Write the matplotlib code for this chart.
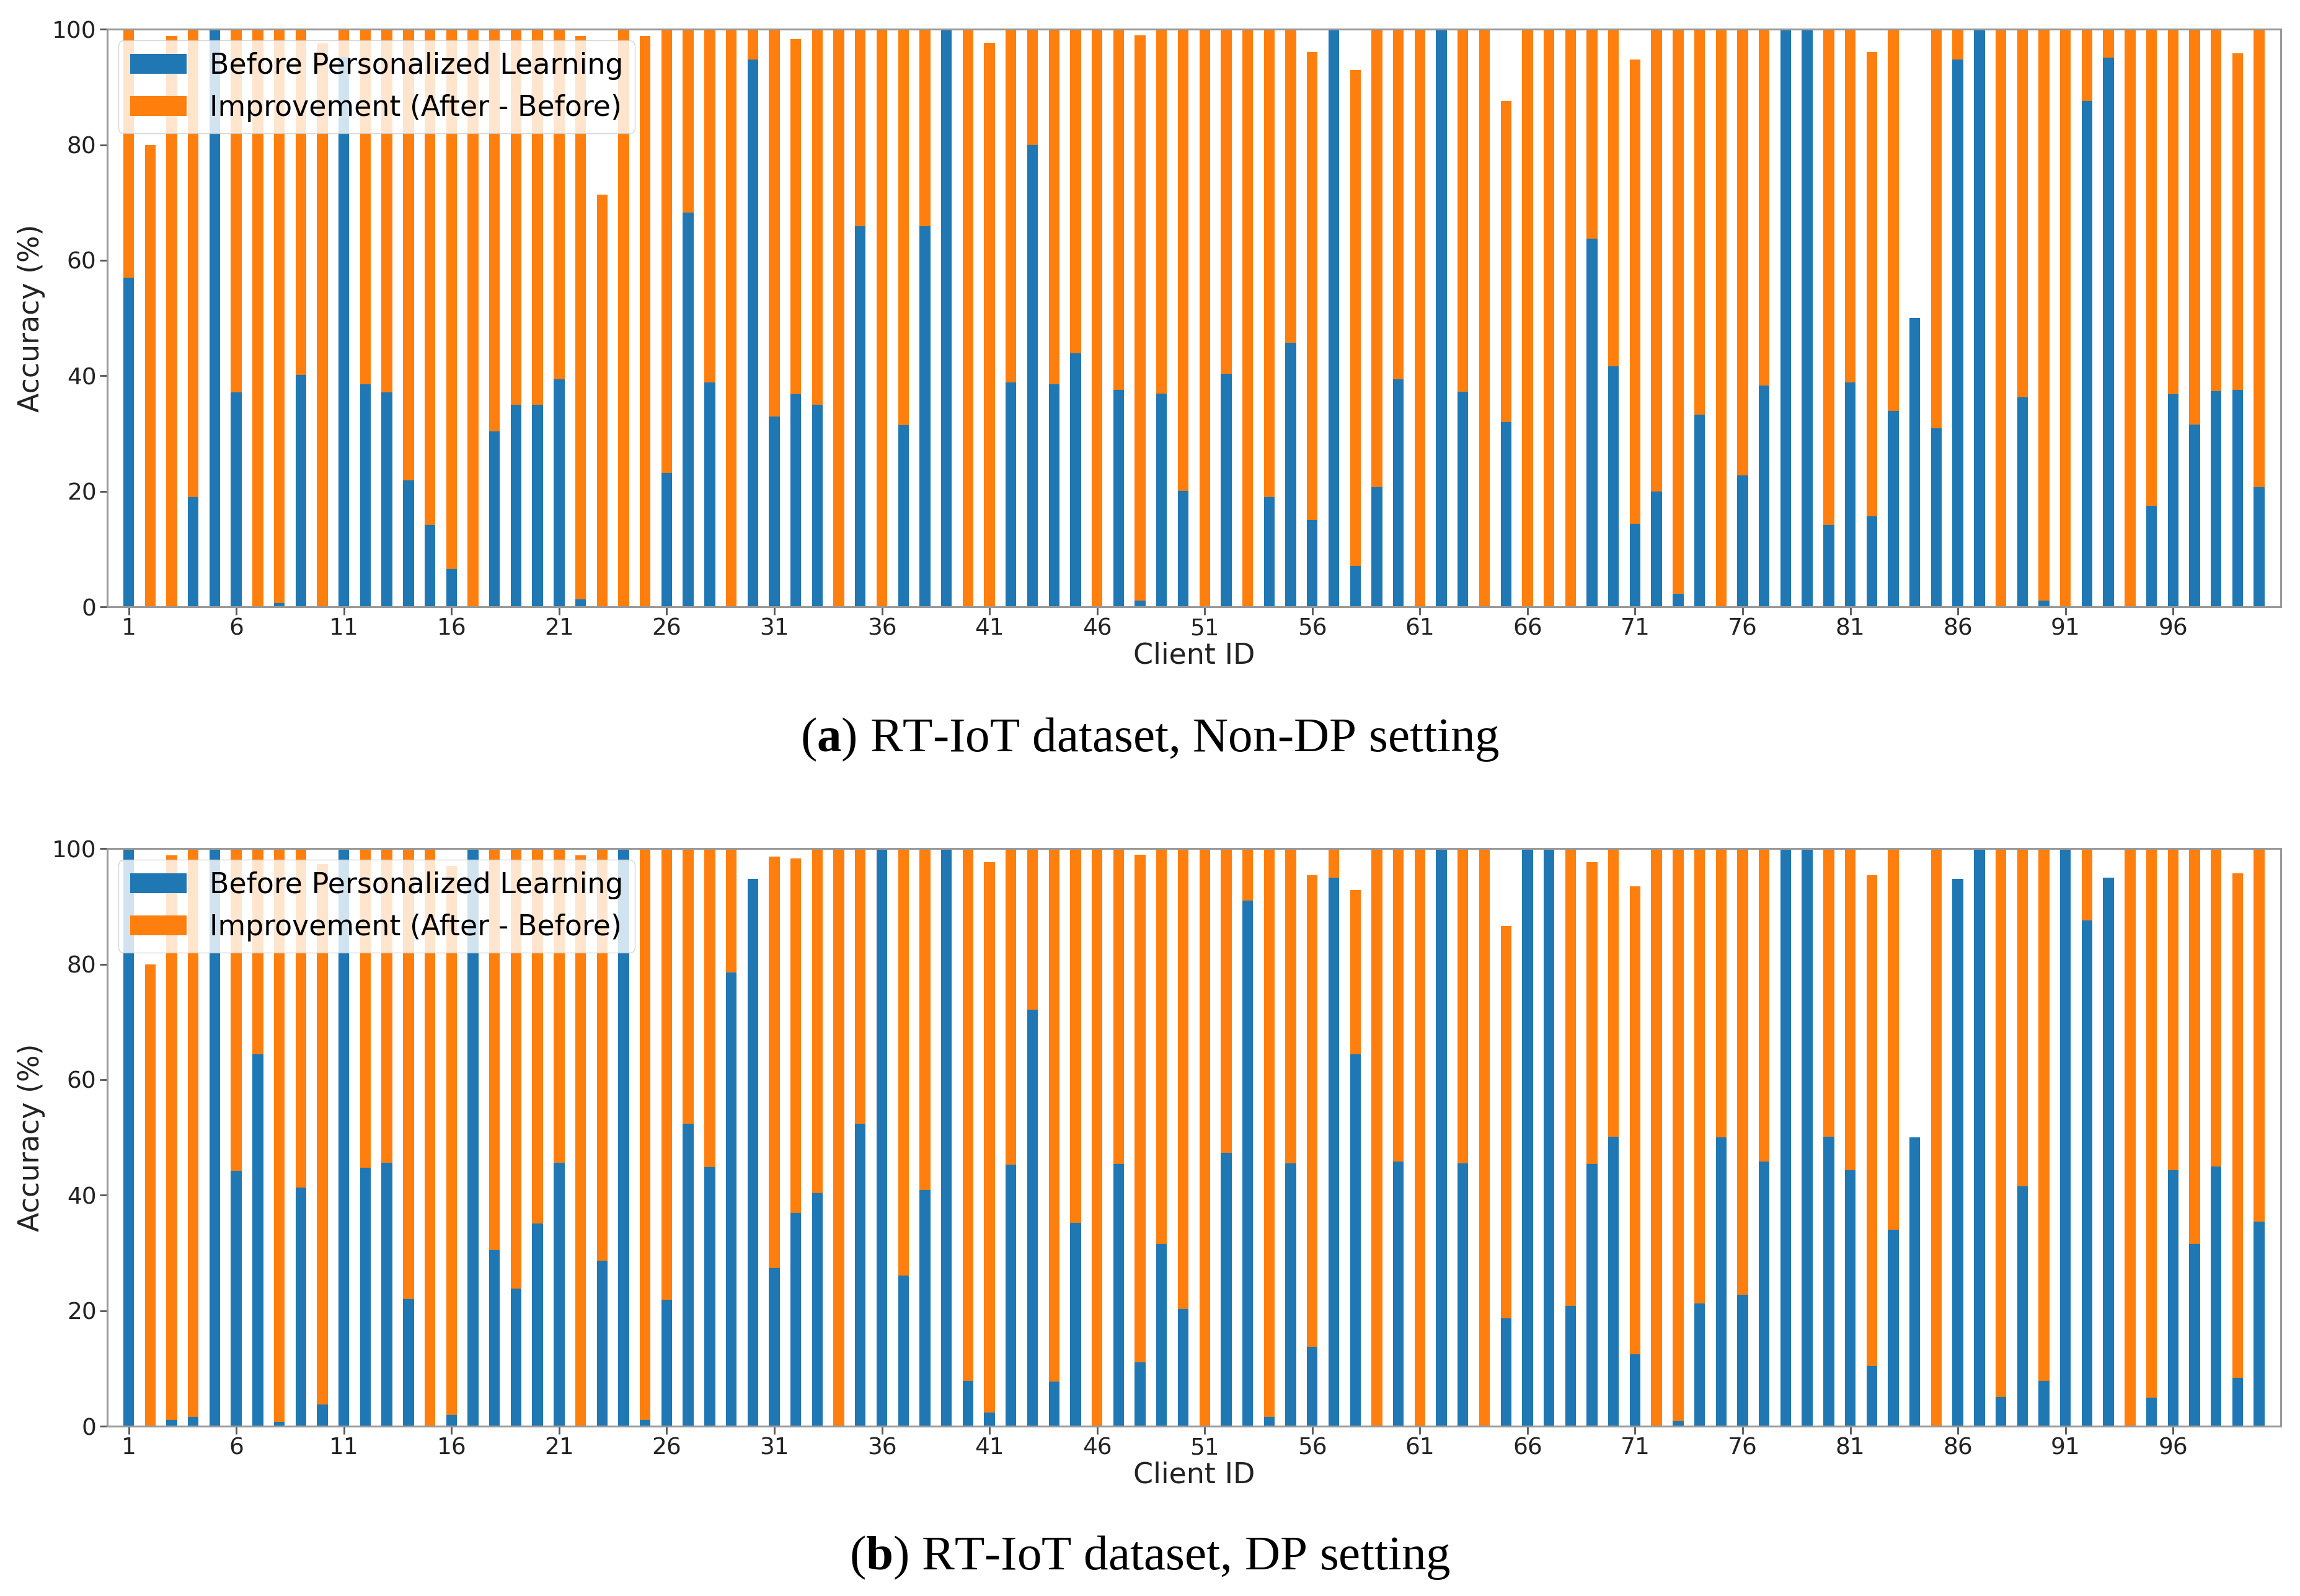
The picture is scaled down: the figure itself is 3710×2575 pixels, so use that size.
import numpy as np
import matplotlib
matplotlib.use('Agg')
import matplotlib.pyplot as plt

# client ids 1..100
clients = list(range(1, 101))

# RT-IoT, Non-DP setting: accuracy before personalized learning (%)
before_nondp = [57.0, 0, 0, 19.0, 100, 37.1, 0, 0.6, 40.1, 0,
                95.2, 38.5, 37.1, 21.9, 14.2, 6.6, 0, 30.4, 35.0, 35.0,
                39.4, 1.3, 0, 0, 0, 23.2, 68.2, 38.8, 0, 94.8,
                32.9, 36.8, 35.0, 0, 65.9, 0, 31.4, 65.9, 100, 0,
                0, 38.8, 80.0, 38.5, 43.9, 0, 37.6, 1.1, 36.9, 20.1,
                0, 40.3, 0, 19.0, 45.7, 15.0, 100, 7.1, 20.7, 39.4,
                0, 100, 37.2, 0, 32.0, 0, 0, 0, 63.7, 41.6,
                14.4, 20.0, 2.3, 33.3, 0, 22.8, 38.3, 100, 100, 14.2,
                38.8, 15.7, 33.9, 50.0, 30.9, 94.8, 100, 0, 36.3, 1.1,
                0, 87.6, 95.1, 0, 17.5, 36.8, 31.5, 37.3, 37.6, 20.7]

# accuracy after personalized learning (%)
after_nondp = [100, 80.0, 98.8, 100, 100, 100, 100, 100, 100, 97.5,
               100, 100, 100, 100, 100, 100, 100, 100, 100, 100,
               100, 98.8, 71.4, 100, 98.8, 100, 100, 100, 100, 100,
               100, 98.3, 100, 100, 100, 100, 100, 100, 100, 100,
               97.6, 100, 100, 100, 100, 100, 100, 98.9, 100, 100,
               100, 100, 100, 100, 100, 96.0, 100, 92.9, 100, 100,
               100, 100, 100, 100, 87.6, 100, 100, 100, 100, 100,
               94.8, 100, 100, 100, 100, 100, 100, 100, 100, 100,
               100, 96.0, 100, 50.0, 100, 100, 100, 100, 100, 100,
               100, 100, 100, 100, 100, 100, 100, 100, 95.8, 100]

# RT-IoT, DP setting
before_dp = [100, 0, 1.1, 1.6, 100, 44.2, 64.4, 0.7, 41.3, 3.8,
             100, 44.8, 45.6, 22.0, 0, 1.9, 100, 30.5, 23.8, 35.1,
             45.6, 0, 28.7, 100, 1.1, 21.9, 52.4, 44.9, 78.6, 94.8,
             27.4, 36.9, 40.4, 0, 52.4, 100, 26.1, 40.9, 100, 7.8,
             2.4, 45.3, 72.1, 7.7, 35.2, 0, 45.4, 11.1, 31.5, 20.3,
             0, 47.3, 91.0, 1.6, 45.5, 13.7, 95.0, 64.4, 0, 45.8,
             0, 100, 45.5, 0, 18.7, 100, 100, 20.8, 45.4, 50.1,
             12.5, 0, 0.9, 21.2, 50.0, 22.8, 45.8, 100, 100, 50.1,
             44.3, 10.4, 34.0, 50.0, 0, 94.8, 100, 5.0, 41.5, 7.8,
             100, 87.6, 95.0, 0, 4.9, 44.3, 31.6, 45.0, 8.4, 35.4]

after_dp = [100, 80.0, 98.8, 100, 100, 100, 100, 100, 100, 97.3,
            100, 100, 100, 100, 100, 97.0, 100, 100, 100, 100,
            100, 98.8, 100, 100, 100, 100, 100, 100, 100, 94.8,
            98.6, 98.3, 100, 100, 100, 100, 100, 100, 100, 100,
            97.6, 100, 100, 100, 100, 100, 100, 98.9, 100, 100,
            100, 100, 100, 100, 100, 95.4, 100, 92.8, 100, 100,
            100, 100, 100, 100, 86.6, 100, 100, 100, 97.6, 100,
            93.5, 100, 100, 100, 100, 100, 100, 100, 100, 100,
            100, 95.4, 100, 50.0, 100, 94.8, 100, 100, 100, 100,
            100, 100, 95.0, 100, 100, 100, 100, 100, 95.7, 100]

captions = [r'($\mathbf{a}$) RT-IoT dataset, Non-DP setting',
            r'($\mathbf{b}$) RT-IoT dataset, DP setting']

plt.rcParams['mathtext.fontset'] = 'custom'
plt.rcParams['mathtext.rm'] = 'Liberation Serif'
plt.rcParams['mathtext.bf'] = 'Liberation Serif:bold'

FS = 33       # legend and axis labels
TICK_FS = 27  # tick labels


def draw_panel(ax, before, after):
    before = np.array(before)
    improvement = np.array(after) - before
    ax.bar(clients, before, width=0.5, color='#1f77b4', label='Before Personalized Learning')
    ax.bar(clients, improvement, width=0.5, bottom=before, color='#ff7f0e',
           label='Improvement (After - Before)')
    ax.set_xlim(0, 101)
    ax.set_ylim(0, 100)
    ax.set_xticks(clients[::5])
    ax.set_xticklabels([str(c) for c in clients[::5]])
    ax.set_yticks(range(0, 101, 20))
    ax.set_xlabel('Client ID', fontsize=FS, color='#222222', labelpad=2)
    ax.set_ylabel('Accuracy (%)', fontsize=FS, color='#222222', labelpad=8)
    ax.tick_params(labelsize=TICK_FS, length=9, width=2, colors='#555555', labelcolor='#222222')
    for s in ax.spines.values():
        s.set_color('#999999')
        s.set_linewidth(2.2)
    ax.legend(loc='upper left', fontsize=FS, framealpha=0.8, borderaxespad=0.4,
              handlelength=2.0)


fig = plt.figure(figsize=(37.1, 25.75), dpi=100)
ax_a = fig.add_axes([0.0466, 0.6198, 0.9450, 0.3619])
ax_b = fig.add_axes([0.0466, 0.1064, 0.9450, 0.3619])

draw_panel(ax_a, before_nondp, after_nondp)
draw_panel(ax_b, before_dp, after_dp)

fig.text(0.5, 0.5367, captions[0], ha='center', va='center', fontsize=57,
         family='Liberation Serif')
fig.text(0.5, 0.0241, captions[1], ha='center', va='center', fontsize=57,
         family='Liberation Serif')

fig.savefig('out.png', dpi=100)
